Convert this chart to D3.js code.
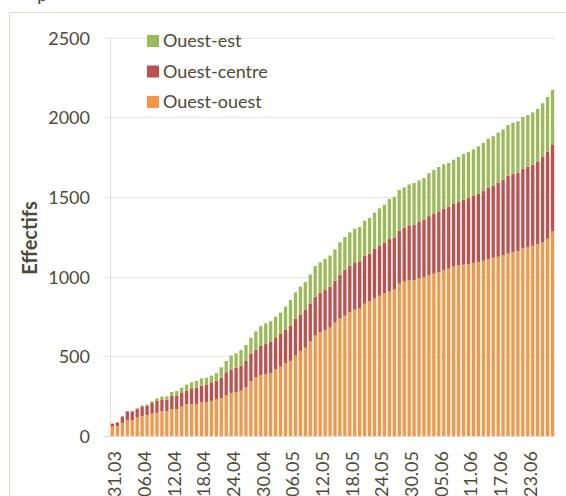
<!DOCTYPE html>
<html><head><meta charset="utf-8">
<script src="https://cdn.jsdelivr.net/npm/d3@7"></script>
<style>
html,body{margin:0;padding:0;background:#fff;}
svg{display:block;}
text{font-family:Lato,"Open Sans",sans-serif;fill:#4f4a35;}
</style></head><body>
<svg id="chart" width="566" height="496"></svg>
<script>
const dates = ["31.03","01.04","02.04","03.04","04.04","05.04","06.04","07.04","08.04","09.04","10.04","11.04","12.04","13.04","14.04","15.04","16.04","17.04","18.04","19.04","20.04","21.04","22.04","23.04","24.04","25.04","26.04","27.04","28.04","29.04","30.04","01.05","02.05","03.05","04.05","05.05","06.05","07.05","08.05","09.05","10.05","11.05","12.05","13.05","14.05","15.05","16.05","17.05","18.05","19.05","20.05","21.05","22.05","23.05","24.05","25.05","26.05","27.05","28.05","29.05","30.05","31.05","01.06","02.06","03.06","04.06","05.06","06.06","07.06","08.06","09.06","10.06","11.06","12.06","13.06","14.06","15.06","16.06","17.06","18.06","19.06","20.06","21.06","22.06","23.06","24.06","25.06","26.06","27.06","28.06"];
const tickLabels = ["31.03","06.04","12.04","18.04","24.04","30.04","06.05","12.05","18.05","24.05","30.05","05.06","11.06","17.06","23.06"];
const seriesNames = ["Ouest-ouest","Ouest-centre","Ouest-est"];
const ouestOuest = [59,61,82,100,100,117,125,130,140,146,155,157,169,169,184,199,199,201,213,213,220,232,238,257,270,276,284,305,345,370,381,389,395,420,435,456,471,506,533,554,596,630,650,663,680,711,736,755,778,793,799,830,847,863,880,895,910,922,956,973,975,979,989,996,1008,1019,1029,1042,1050,1063,1071,1075,1077,1086,1092,1100,1111,1119,1125,1134,1146,1155,1161,1176,1186,1194,1203,1215,1238,1284];
const ouestCentre = [18,23,37,55,55,52,59,60,67,74,71,71,82,82,86,85,96,102,103,107,113,115,128,143,146,153,155,166,170,172,184,188,195,195,205,209,219,230,226,237,236,244,249,253,257,264,276,289,291,293,297,300,297,314,313,318,326,324,332,334,347,347,354,359,372,376,381,384,387,393,399,406,416,422,429,437,448,452,465,474,486,491,492,502,504,509,519,536,548,546];
const ouestEst = [2,4,6,2,2,5,8,8,11,16,21,21,25,31,33,38,42,43,46,46,46,48,65,71,90,90,101,100,102,115,125,130,130,134,134,147,163,165,178,175,182,193,191,195,195,196,203,205,209,215,216,221,224,224,235,238,251,254,256,253,257,262,261,264,270,274,278,279,276,278,281,289,289,291,297,302,307,310,314,316,320,320,322,324,324,328,330,337,341,341];
const yTicks = [0,500,1000,1500,2000,2500];
const colors = {"Ouest-ouest":"#f79646","Ouest-centre":"#c0504d","Ouest-est":"#9bbb59"};
const legendOrder = ["Ouest-est","Ouest-centre","Ouest-ouest"];

const rows = dates.map((d,i)=>({date:d,"Ouest-ouest":ouestOuest[i],"Ouest-centre":ouestCentre[i],"Ouest-est":ouestEst[i]}));
const stack = d3.stack().keys(seriesNames)(rows);

const svg = d3.select("#chart");
const pL=110, pR=555, pT=37.6, pB=436;
const x = d3.scaleBand().domain(dates).range([pL,pR]).paddingInner(0.33).paddingOuter(0.165);
const y = d3.scaleLinear().domain([0,2500]).range([pB,pT]);

// outer frame
svg.append("rect").attr("x",9.5).attr("y",12.5).attr("width",600).attr("height",600)
  .attr("fill","none").attr("stroke","#dedbcb").attr("stroke-width",1);
// partially visible title (cut off at the top edge, as in the reference)
svg.append("text").attr("x",37).attr("y",1).style("font-size","20px").text("p");

// grid
svg.append("g").selectAll("line").data(yTicks).join("line")
  .attr("x1",103).attr("x2",pR).attr("y1",d=>Math.round(y(d))+0.5).attr("y2",d=>Math.round(y(d))+0.5)
  .attr("stroke","#ebe8df").attr("stroke-width",1);
svg.append("line").attr("x1",pL+0.5).attr("x2",pL+0.5).attr("y1",pT).attr("y2",pB)
  .attr("stroke","#e6e2d6");
svg.append("line").attr("x1",103).attr("x2",pR).attr("y1",pB+0.5).attr("y2",pB+0.5)
  .attr("stroke","#e2dfd3");

// y axis labels
const yAxis = d3.axisLeft(y).tickValues(yTicks).tickFormat(d3.format("d")).tickSize(0).tickPadding(0);
const gy = svg.append("g").attr("transform",`translate(90,0)`).call(yAxis);
gy.select(".domain").remove();
gy.selectAll("text").style("font-size","18px").style("font-family","Lato,sans-serif").attr("fill","#4f4a35").attr("dy","0.36em");

// bars
svg.append("g").selectAll("g").data(stack).join("g").attr("fill",d=>colors[d.key])
  .selectAll("rect").data(d=>d).join("rect")
  .attr("x",d=>x(d.data.date)).attr("width",x.bandwidth())
  .attr("y",d=>y(d[1])).attr("height",d=>y(d[0])-y(d[1]));

// x axis labels
const xAxis = d3.axisBottom(x).tickValues(tickLabels).tickSize(0);
const gx = svg.append("g").attr("transform",`translate(2.5,${pB})`).call(xAxis);
gx.select(".domain").remove();
gx.selectAll("text").style("font-size","18px").style("font-family","Lato,sans-serif").attr("fill","#4f4a35")
  .attr("transform","rotate(-90)").attr("text-anchor","end").attr("x",-15).attr("y",0).attr("dy","0.36em");

// y title
svg.append("text").attr("transform","translate(37,238) rotate(-90)").attr("text-anchor","middle")
  .style("font-size","20px").style("font-weight","bold").text("Effectifs");

// legend
const lg = svg.append("g").selectAll("g").data(legendOrder).join("g")
  .attr("transform",(d,i)=>`translate(147,${41+i*30.5})`);
lg.append("rect").attr("x",0).attr("y",-6).attr("width",12).attr("height",12).attr("fill",d=>colors[d]);
lg.append("text").attr("x",16).attr("y",0).attr("dy","0.36em").style("font-size","18px").text(d=>d);
</script>
</body></html>
